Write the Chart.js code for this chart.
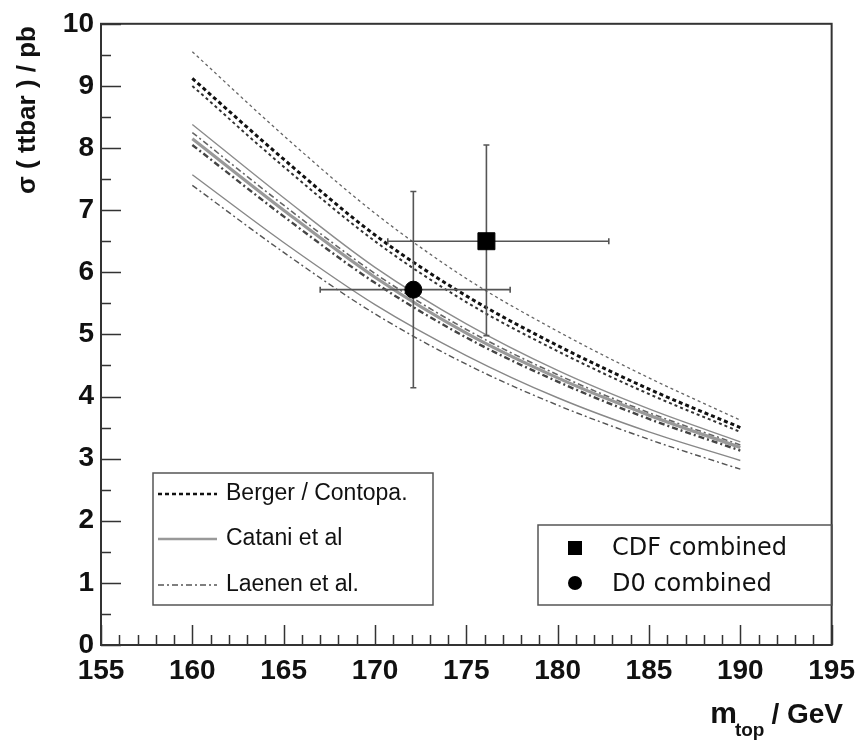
<!DOCTYPE html>
<html>
<head>
<meta charset="utf-8">
<script src="https://cdn.jsdelivr.net/npm/chart.js@4.4.0/dist/chart.umd.min.js"></script>
<style>
html, body { margin: 0; padding: 0; background: #fff; }
canvas { display: block; }
</style>
</head>
<body>
<canvas id="xsec" width="864" height="740"></canvas>
<script>
// theory curves, sigma(ttbar) in pb vs m_top in GeV
var massPoints   = [160, 165, 170, 175, 180, 185, 190];
var bergerUpper  = [9.55, 8.20, 6.95, 5.90, 5.05, 4.30, 3.62];
var bergerCentre = [9.12, 7.82, 6.60, 5.62, 4.82, 4.12, 3.50];
var bergerLower  = [9.00, 7.70, 6.50, 5.52, 4.73, 4.04, 3.43];
var cataniUpper  = [8.38, 7.20, 6.08, 5.17, 4.42, 3.80, 3.27];
var cataniCentre = [8.15, 7.00, 5.92, 5.02, 4.30, 3.70, 3.18];
var cataniLower  = [7.57, 6.48, 5.48, 4.66, 3.98, 3.43, 2.97];
var laenenUpper  = [8.25, 7.08, 5.98, 5.08, 4.35, 3.74, 3.22];
var laenenCentre = [8.05, 6.90, 5.83, 4.95, 4.24, 3.64, 3.13];
var laenenLower  = [7.40, 6.32, 5.33, 4.52, 3.86, 3.31, 2.83];

// measurements
var measLabels  = ['CDF combined', 'D0 combined'];
var measMass    = [176.1, 172.1];
var measSigma   = [6.50, 5.72];
var measMassLo  = [170.7, 167.0];
var measMassHi  = [182.8, 177.4];
var measSigmaLo = [4.98, 4.14];
var measSigmaHi = [8.05, 7.30];

// axis tick labels
var xTickLabels = [155, 160, 165, 170, 175, 180, 185, 190, 195];
var yTickLabels = [0, 1, 2, 3, 4, 5, 6, 7, 8, 9, 10];

var BERGER_DASH = [4, 3];
var LAENEN_DASH = [6, 3, 2, 3];

function curve(vals) {
    return massPoints.map(function (m, i) { return { x: m, y: vals[i] }; });
}

function lineSet(label, vals, color, width, dash) {
    return {
        label: label,
        data: curve(vals),
        showLine: true,
        borderColor: color,
        borderWidth: width,
        borderDash: dash || [],
        pointRadius: 0,
        cubicInterpolationMode: 'monotone',
        fill: false
    };
}

var errorBars = {
    id: 'errorBars',
    beforeDatasetDraw: function (chart, args) {
        if (args.index !== 1) return;
        var xs = chart.scales.x, ys = chart.scales.y, ctx = chart.ctx;
        ctx.save();
        ctx.strokeStyle = '#555';
        ctx.lineWidth = 1.6;
        for (var i = 0; i < measMass.length; i++) {
            var px = xs.getPixelForValue(measMass[i]);
            var py = ys.getPixelForValue(measSigma[i]);
            var x0 = xs.getPixelForValue(measMassLo[i]), x1 = xs.getPixelForValue(measMassHi[i]);
            var y0 = ys.getPixelForValue(measSigmaLo[i]), y1 = ys.getPixelForValue(measSigmaHi[i]);
            ctx.beginPath();
            ctx.moveTo(x0, py); ctx.lineTo(x1, py);
            ctx.moveTo(px, y0); ctx.lineTo(px, y1);
            ctx.moveTo(x0, py - 3); ctx.lineTo(x0, py + 3);
            ctx.moveTo(x1, py - 3); ctx.lineTo(x1, py + 3);
            ctx.moveTo(px - 3, y0); ctx.lineTo(px + 3, y0);
            ctx.moveTo(px - 3, y1); ctx.lineTo(px + 3, y1);
            ctx.stroke();
        }
        ctx.restore();
    }
};

var frameAndText = {
    id: 'frameAndText',
    afterDraw: function (chart) {
        var ctx = chart.ctx, a = chart.chartArea;
        var xs = chart.scales.x, ys = chart.scales.y;
        ctx.save();
        ctx.strokeStyle = '#333';
        ctx.lineWidth = 2;
        ctx.strokeRect(a.left, a.top, a.right - a.left, a.bottom - a.top);

        // inward ticks
        ctx.lineWidth = 1.5;
        ctx.beginPath();
        for (var m = 155; m <= 195; m++) {
            var px = Math.round(xs.getPixelForValue(m)) + 0.5;
            var len = (m % 5 === 0) ? 20 : 10;
            ctx.moveTo(px, a.bottom); ctx.lineTo(px, a.bottom - len);
        }
        for (var s = 0; s <= 20; s++) {
            var py = Math.round(ys.getPixelForValue(s / 2)) + 0.5;
            var l2 = (s % 2 === 0) ? 20 : 10;
            ctx.moveTo(a.left, py); ctx.lineTo(a.left + l2, py);
        }
        ctx.stroke();

        // axis titles
        ctx.fillStyle = '#111';
        ctx.save();
        ctx.translate(28, 110);
        ctx.rotate(-Math.PI / 2);
        ctx.textAlign = 'center';
        ctx.textBaseline = 'middle';
        ctx.font = 'bold 26px "Liberation Sans", Arial, sans-serif';
        ctx.fillText('\u03c3 ( ttbar ) / pb', 0, 0);
        ctx.restore();

        ctx.textBaseline = 'alphabetic';
        ctx.textAlign = 'right';
        ctx.font = 'bold 28px "Liberation Sans", Arial, sans-serif';
        ctx.fillText('/ GeV', 843, 723);
        var w1 = ctx.measureText('/ GeV').width;
        ctx.font = 'bold 19px "Liberation Sans", Arial, sans-serif';
        ctx.fillText('top', 843 - w1 - 7, 736);
        var w2 = ctx.measureText('top').width;
        ctx.font = 'bold 30px "Liberation Sans", Arial, sans-serif';
        ctx.fillText('m', 843 - w1 - 7 - w2 + 2, 723);

        // theory legend
        ctx.lineWidth = 1.5;
        ctx.strokeStyle = '#555';
        ctx.strokeRect(153, 473, 280, 132);
        var rows = [
            { y: 494, text: 'Berger / Contopa.', color: '#111', width: 2.4, dash: BERGER_DASH },
            { y: 539, text: 'Catani et al', color: '#999', width: 2.5, dash: [] },
            { y: 585, text: 'Laenen et al.', color: '#555', width: 1.6, dash: LAENEN_DASH }
        ];
        ctx.textAlign = 'left';
        ctx.textBaseline = 'middle';
        ctx.font = '23px "Liberation Sans", Arial, sans-serif';
        rows.forEach(function (r) {
            ctx.save();
            ctx.strokeStyle = r.color;
            ctx.lineWidth = r.width;
            ctx.setLineDash(r.dash);
            ctx.beginPath();
            ctx.moveTo(158, r.y); ctx.lineTo(217, r.y);
            ctx.stroke();
            ctx.restore();
            ctx.fillStyle = '#111';
            ctx.fillText(r.text, 226, r.y);
        });

        // measurement legend
        ctx.strokeStyle = '#555';
        ctx.lineWidth = 1.5;
        ctx.strokeRect(538, 525, 294, 80);
        ctx.fillStyle = '#000';
        ctx.fillRect(568, 541, 14, 14);
        ctx.beginPath();
        ctx.arc(575, 583, 7, 0, Math.PI * 2);
        ctx.fill();
        ctx.fillStyle = '#111';
        ctx.font = '24px "DejaVu Sans", sans-serif';
        ctx.fillText(measLabels[0], 612, 549);
        ctx.fillText(measLabels[1], 612, 585);
        ctx.restore();
    }
};

var tickFont = { family: '"Liberation Sans", Arial, sans-serif', weight: 'bold', size: 28 };

new Chart(document.getElementById('xsec'), {
    type: 'scatter',
    data: {
        datasets: [
            {
                label: measLabels[0],
                data: [{ x: measMass[0], y: measSigma[0] }],
                pointStyle: 'rect',
                pointRadius: 12,
                backgroundColor: '#000',
                borderColor: '#000'
            },
            {
                label: measLabels[1],
                data: [{ x: measMass[1], y: measSigma[1] }],
                pointStyle: 'circle',
                pointRadius: 8.5,
                backgroundColor: '#000',
                borderColor: '#000'
            },
            lineSet('Berger up', bergerUpper, '#666', 1.3, [3, 3]),
            lineSet('Berger', bergerCentre, '#111', 3, BERGER_DASH),
            lineSet('Berger low', bergerLower, '#333', 2, [3, 3]),
            lineSet('Catani up', cataniUpper, '#8c8c8c', 1.4),
            lineSet('Catani', cataniCentre, '#999', 3.2),
            lineSet('Catani low', cataniLower, '#888', 1.4),
            lineSet('Laenen up', laenenUpper, '#666', 1.6, LAENEN_DASH),
            lineSet('Laenen', laenenCentre, '#444', 2.4, LAENEN_DASH),
            lineSet('Laenen low', laenenLower, '#555', 1.4, LAENEN_DASH)
        ]
    },
    options: {
        responsive: false,
        animation: false,
        devicePixelRatio: 1,
        layout: { padding: { top: 19, right: 28, left: 0, bottom: 0 } },
        plugins: {
            legend: { display: false },
            tooltip: { enabled: false }
        },
        scales: {
            x: {
                type: 'linear',
                min: 155,
                max: 195,
                afterBuildTicks: function (s) { s.ticks = xTickLabels.map(function (v) { return { value: v }; }); },
                afterFit: function (s) { s.height = 95; },
                ticks: { font: tickFont, color: '#111', padding: 9, maxRotation: 0, autoSkip: false },
                grid: { display: false, drawTicks: false },
                border: { display: false }
            },
            y: {
                min: 0,
                max: 10,
                afterBuildTicks: function (s) { s.ticks = yTickLabels.map(function (v) { return { value: v }; }); },
                afterFit: function (s) { s.width = 101; },
                ticks: { font: tickFont, color: '#111', padding: 7, autoSkip: false },
                grid: { display: false, drawTicks: false },
                border: { display: false }
            }
        }
    },
    plugins: [errorBars, frameAndText]
});
</script>
</body>
</html>
